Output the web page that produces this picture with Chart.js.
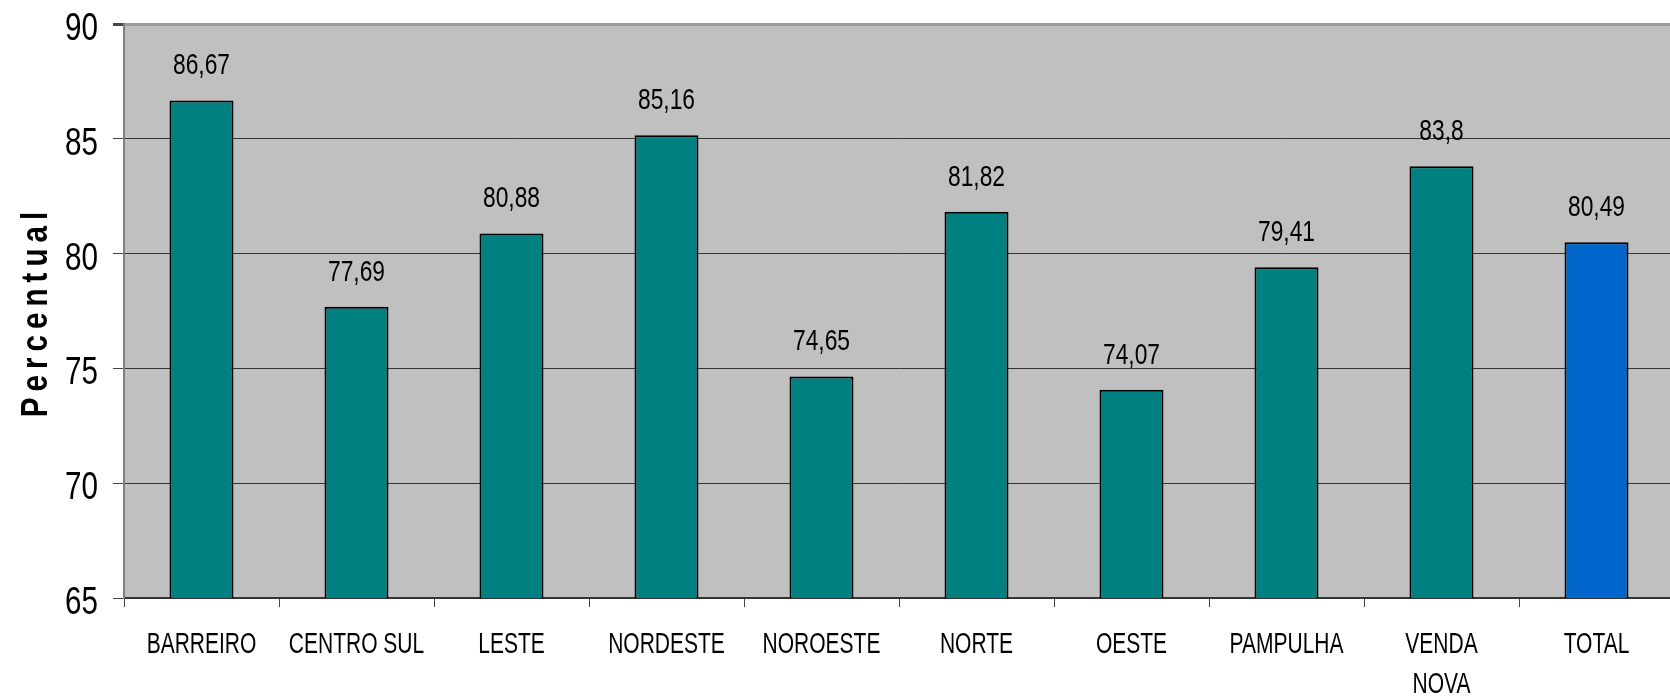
<!DOCTYPE html>
<html>
<head>
<meta charset="utf-8">
<script src="https://cdn.jsdelivr.net/npm/chart.js@4/dist/chart.umd.min.js"></script>
<style>
    html, body { margin: 0; padding: 0; background: #fff; overflow: hidden; }
    .chart_wrap { width: 1670px; height: 700px; overflow: hidden; }
</style>
</head>
<body>
<div class="chart_wrap">
    <canvas id="chart" width="1674" height="700"></canvas>
</div>
<script>
// data
const regions = ['BARREIRO', 'CENTRO SUL', 'LESTE', 'NORDESTE', 'NOROESTE', 'NORTE', 'OESTE', 'PAMPULHA', ['VENDA', 'NOVA'], 'TOTAL'];
const percentual = [86.67, 77.69, 80.88, 85.16, 74.65, 81.82, 74.07, 79.41, 83.8, 80.49];
const barColors = ['#008080', '#008080', '#008080', '#008080', '#008080', '#008080', '#008080', '#008080', '#008080', '#0066CC'];
const yTicks = [65, 70, 75, 80, 85, 90];
const yTitle = 'Percentual';

const font = '"Liberation Sans", Arial, sans-serif';

// the original text is narrow, so squeeze it sideways
function narrowText(ctx, txt, x, y, sx, align) {
    ctx.save();
    ctx.translate(x, y);
    ctx.scale(sx, 1);
    ctx.textAlign = align;
    ctx.fillText(txt, 0, 0);
    ctx.restore();
}

const plotPlugin = {
    id: 'plotPlugin',
    // grey plot background
    beforeDraw(chart) {
        const {ctx, chartArea: a} = chart;
        ctx.save();
        ctx.fillStyle = '#C0C0C0';
        ctx.fillRect(a.left, a.top, a.right - a.left, a.bottom - a.top);
        ctx.restore();
    },
    // values above the bars
    afterDatasetsDraw(chart) {
        const ctx = chart.ctx;
        const meta = chart.getDatasetMeta(0);
        ctx.save();
        ctx.font = '30px ' + font;
        ctx.fillStyle = '#000';
        ctx.textBaseline = 'alphabetic';
        meta.data.forEach((bar, i) => {
            const txt = String(percentual[i]).replace('.', ',');
            narrowText(ctx, txt, bar.x, bar.y - 26, 0.76, 'center');
        });
        ctx.restore();
    },
    // axis labels + title
    afterDraw(chart) {
        const {ctx, chartArea: a} = chart;
        const xs = chart.scales.x;
        const ys = chart.scales.y;
        ctx.save();
        ctx.fillStyle = '#000';
        ctx.textBaseline = 'alphabetic';

        ctx.font = '39px ' + font;
        yTicks.forEach(v => {
            narrowText(ctx, String(v), 98, ys.getPixelForValue(v) + 16, 0.76, 'right');
        });

        ctx.font = '30px ' + font;
        regions.forEach((lab, i) => {
            const lines = Array.isArray(lab) ? lab : [lab];
            lines.forEach((ln, j) => {
                narrowText(ctx, ln, xs.getPixelForTick(i), a.bottom + 55 + j * 40, 0.70, 'center');
            });
        });

        ctx.translate(46.5, (a.top + a.bottom) / 2 + 3.5);
        ctx.rotate(-Math.PI / 2);
        ctx.scale(0.8, 1);
        ctx.font = 'bold 37px ' + font;
        ctx.letterSpacing = '7.5px';
        ctx.textAlign = 'center';
        ctx.fillText(yTitle, 3.75, 0);
        ctx.restore();
    }
};

const chart = document.querySelector('#chart').getContext('2d');

new Chart(chart, {
    type: 'bar',
    data: {
        labels: regions,
        datasets: [
            {
                data: percentual,
                backgroundColor: barColors,
                borderColor: '#000',
                borderWidth: 2,
                borderSkipped: false,
                categoryPercentage: 1,
                barPercentage: 0.413
            }
        ]
    },
    options: {
        responsive: false,
        animation: false,
        devicePixelRatio: 1,
        layout: { padding: { top: 24, right: 0, left: 0, bottom: 0 } },
        plugins: {
            legend: { display: false },
            tooltip: { enabled: false }
        },
        scales: {
            x: {
                grid: { drawOnChartArea: false, drawTicks: true, tickLength: 9, color: '#444', offset: true },
                border: { color: '#333', width: 2 },
                ticks: { display: false, autoSkip: false },
                afterFit: s => { s.height = 102; }
            },
            y: {
                min: 65,
                max: 90,
                afterBuildTicks: s => { s.ticks = yTicks.map(v => ({ value: v })); },
                grid: {
                    color: c => (c.tick && c.tick.value === 90) ? '#9a9a9a' : '#333',
                    lineWidth: c => (c.tick && c.tick.value === 90) ? 3 : 1,
                    tickLength: 11,
                    tickColor: '#444'
                },
                border: { color: '#808080', width: 2 },
                ticks: { display: false },
                afterFit: s => { s.width = 124; }
            }
        }
    },
    plugins: [plotPlugin]
});
</script>
</body>
</html>
